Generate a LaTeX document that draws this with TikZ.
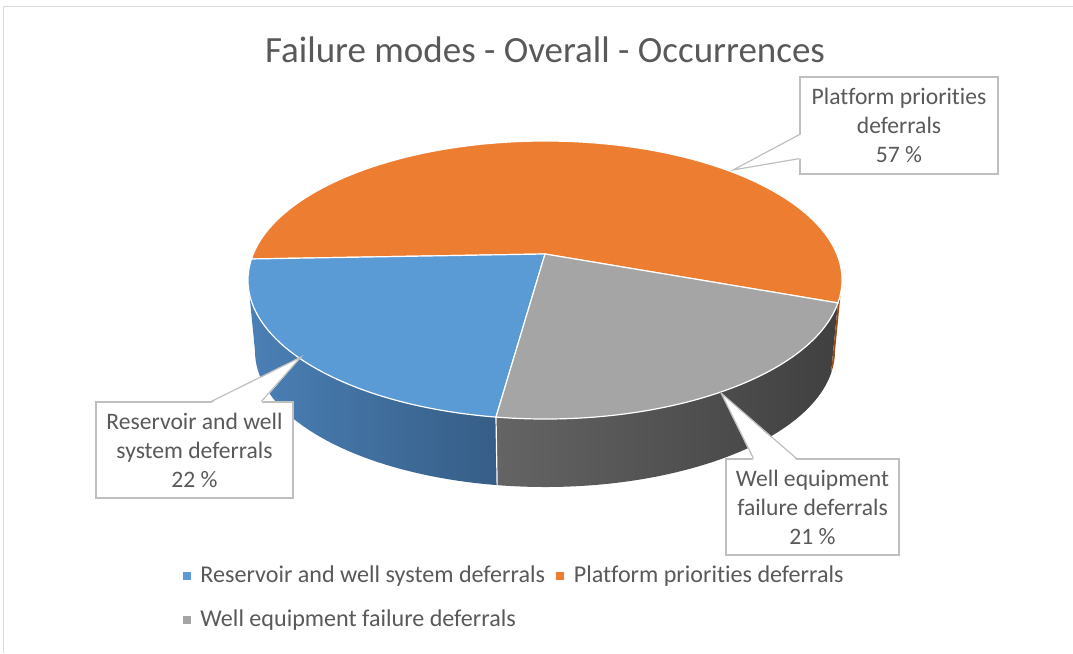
\documentclass[tikz,border=0pt]{standalone}
\usepackage{fontspec}
\setmainfont[Ligatures=NoCommon]{Carlito}
\usepackage{xcolor}
\usepackage{tikz}
\usetikzlibrary{positioning}

\definecolor{pieorange}{HTML}{ED7D31}
\definecolor{pieblue}{HTML}{5B9BD5}
\definecolor{piegray}{HTML}{A5A5A5}
\definecolor{sideblueL}{HTML}{4B80B6}
\definecolor{sideblueR}{HTML}{365D86}
\definecolor{sidegrayL}{HTML}{646464}
\definecolor{sidegrayR}{HTML}{404040}
\definecolor{sideorange}{HTML}{9C4D17}
\definecolor{txtgray}{HTML}{595959}
\definecolor{boxgray}{HTML}{BFBFBF}
\definecolor{framegray}{HTML}{D9D9D9}

\begin{document}
\begin{tikzpicture}[x=1pt,y=1pt,
  slice/.style={draw=white,line width=1.2pt},
  lbl/.style={text=txtgray,align=center,font=\fontsize{23.6}{29}\selectfont,
    fill=white,draw=boxgray,line width=1.2pt,inner sep=0pt},
  wedge/.style={draw=boxgray,line width=1.2pt,line join=miter},
  legsq/.style={minimum size=8pt,inner sep=0pt},
  legtxt/.style={text=txtgray,font=\fontsize{24.1}{29}\selectfont,inner sep=0pt}]
\useasboundingbox (0,0) rectangle (1073,653);

\draw[framegray,line width=1pt] (3,0) -- (3,646) -- (1073,646);

\node[text=txtgray,font=\fontsize{37}{44}\selectfont] (title) at (545,603) {Failure modes - Overall - Occurrences};

\coordinate (apex) at (545,399);
\coordinate (rimL) at ({545+297*cos(171.3)},{373+139*sin(171.3)});
\coordinate (rimR) at ({545+297*cos(-9.5)},{373+139*sin(-9.5)});
\coordinate (rimB) at ({545+297*cos(260.5)},{373+139*sin(260.5)});
\coordinate (lowB) at ({545+290*cos(260.5)},{302+136*sin(260.5)});
\coordinate (lowR) at ({545+290*cos(-9.5)},{302+136*sin(-9.5)});

\shade[left color=sideblueL,right color=sideblueR] (248,373) arc[start angle=180,end angle=260.5,x radius=297,y radius=139]
  -- (lowB) arc[start angle=260.5,end angle=180,x radius=290,y radius=136] -- cycle;
\shade[left color=sidegrayL,middle color=sidegrayR,right color=sidegrayR] (rimB) arc[start angle=260.5,end angle=350.5,x radius=297,y radius=139]
  -- (lowR) arc[start angle=350.5,end angle=260.5,x radius=290,y radius=136] -- cycle;
\fill[sideorange] (rimR) arc[start angle=-9.5,end angle=0,x radius=297,y radius=139]
  -- (835,302) arc[start angle=0,end angle=-9.5,x radius=290,y radius=136] -- cycle;
\draw[white,line width=1.2pt] (rimB) -- (lowB);

\filldraw[slice,fill=pieorange] (apex) -- (rimR) arc[start angle=-9.5,end angle=171.3,x radius=297,y radius=139] -- cycle;
\filldraw[slice,fill=pieblue] (apex) -- (rimL) arc[start angle=171.3,end angle=260.5,x radius=297,y radius=139] -- cycle;
\filldraw[slice,fill=piegray] (apex) -- (rimB) arc[start angle=260.5,end angle=350.5,x radius=297,y radius=139] -- cycle;

\node[lbl,minimum width=198pt,minimum height=97pt] (plat) at (899,527.5) {Platform priorities\\deferrals\\57 \%};
\coordinate (platTip) at (733,483);
\fill[white] ([xshift=1.5pt,yshift=16pt]plat.south west) -- (platTip) -- ([xshift=1.5pt,yshift=40pt]plat.south west) -- cycle;
\draw[wedge] ([yshift=16pt]plat.south west) -- (platTip) -- ([yshift=40pt]plat.south west);

\node[lbl,minimum width=197pt,minimum height=96pt] (res) at (194.5,203) {Reservoir and well\\system deferrals\\22 \%};
\coordinate (resTip) at (301,296);
\fill[white] ([xshift=116pt,yshift=-1.5pt]res.north west) -- (resTip) -- ([xshift=166pt,yshift=-1.5pt]res.north west) -- cycle;
\draw[wedge] ([xshift=116pt]res.north west) -- (resTip) -- ([xshift=166pt]res.north west);

\node[lbl,minimum width=173pt,minimum height=96pt] (well) at (812.5,146) {Well equipment\\failure deferrals\\21 \%};
\coordinate (wellTip) at (721,260);
\fill[white] ([xshift=28pt,yshift=-1.5pt]well.north west) -- (wellTip) -- ([xshift=71pt,yshift=-1.5pt]well.north west) -- cycle;
\draw[wedge] ([xshift=28pt]well.north west) -- (wellTip) -- ([xshift=71pt]well.north west);

\node[legsq,fill=pieblue] (sqRes) at (187,77) {};
\node[legtxt,right=9pt of sqRes] (legRes) {Reservoir and well system deferrals};
\node[legsq,fill=pieorange,right=11pt of legRes] (sqPlat) {};
\node[legtxt,right=9pt of sqPlat] (legPlat) {Platform priorities deferrals};
\node[legsq,fill=piegray] (sqWell) at (187,33) {};
\node[legtxt,right=9pt of sqWell] (legWell) {Well equipment failure deferrals};
\end{tikzpicture}
\end{document}
